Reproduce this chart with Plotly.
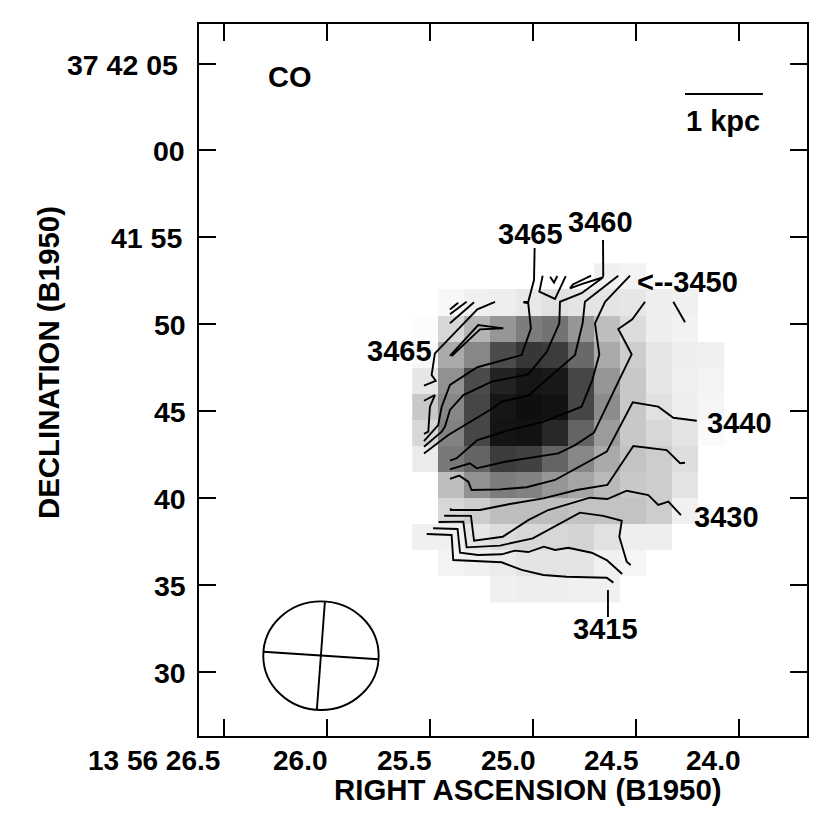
import plotly.graph_objects as go

# pixel grid of the CO map: RA seconds (13 56 xx), Dec seconds offset (37 41 xx, >60 = 37 42 xx)
grid_ra = [25.523, 25.397, 25.271, 25.145, 25.018, 24.892, 24.766, 24.640, 24.514, 24.387, 24.261, 24.135]
grid_dec = [52.75, 51.25, 49.75, 48.25, 46.75, 45.24, 43.74, 42.24, 40.74, 39.23, 37.73, 36.23, 34.73]
n = None
co_flux = [
    [n, n, n, n, n, n, n, 15, 12, n, n, n],
    [n, 8, 15, 17, 23, 30, 27, 27, 25, 17, 15, n],
    [3, 40, 75, 105, 130, 140, 105, 65, 35, 17, 13, n],
    [7, 85, 120, 180, 200, 195, 150, 85, 50, 25, 17, 15],
    [25, 110, 180, 220, 233, 230, 185, 105, 55, 25, 15, 12],
    [55, 120, 185, 233, 240, 237, 185, 115, 55, 30, 17, 10],
    [40, 125, 185, 235, 237, 215, 155, 100, 55, 40, 27, 5],
    [20, 135, 155, 195, 190, 155, 120, 85, 60, 50, 33, n],
    [n, 65, 110, 130, 125, 105, 90, 70, 55, 50, 27, n],
    [n, 40, 50, 65, 65, 65, 60, 60, 60, 50, 15, n],
    [15, 15, 25, 35, 40, 40, 43, 30, 17, 17, n, n],
    [n, 12, 15, 20, 27, 27, 27, 15, 10, n, n, n],
    [n, n, n, 15, 17, 17, 15, 15, n, n, n, n],
]

# velocity contour segments, (RA, Dec)
contours = [
    ([25.184, 25.270, 25.476, 25.492, 25.472, 25.529], [51.28, 50.85, 48.32, 47.07, 46.74, 46.46]),
    ([25.403, 25.363], [50.85, 51.23]),
    ([25.403, 25.322], [50.57, 51.29]),
    ([25.403, 25.286], [50.05, 51.26]),
    ([25.403, 25.266, 25.144, 25.257, 25.395], [48.18, 49.95, 49.76, 49.70, 48.17]),
    ([25.529, 25.476, 25.500, 25.508, 25.529], [45.59, 45.92, 45.25, 43.81, 43.68]),
    ([24.992, 24.995, 25.023, 25.047, 25.023, 25.010, 25.055, 25.270, 25.403, 25.443, 25.460, 25.529],
     [54.38, 52.54, 51.29, 51.26, 51.20, 49.76, 48.22, 47.52, 46.50, 45.25, 44.19, 43.27]),
    ([24.953, 24.969, 24.893, 24.841], [52.79, 51.87, 51.45, 52.77]),
    ([24.917, 24.898, 24.882], [52.73, 52.39, 52.77]),
    ([24.660, 24.659], [54.84, 52.73]),
    ([24.718, 24.806, 24.820, 24.764, 24.659, 24.764, 24.869, 24.872, 24.933, 25.023, 25.200, 25.338, 25.403, 25.427, 25.443, 25.529],
     [52.79, 52.29, 52.06, 52.31, 52.70, 51.78, 51.29, 50.05, 48.41, 47.11, 46.69, 45.92, 45.06, 44.10, 43.81, 42.94]),
    ([24.586, 24.748, 24.759, 24.796, 25.023, 25.152, 25.209, 25.330, 25.411, 25.529],
     [52.79, 51.29, 50.05, 48.22, 45.88, 45.54, 45.06, 44.19, 43.62, 42.56]),
    ([24.529, 24.650, 24.699, 24.678, 24.712, 24.764, 24.950, 25.112, 25.270, 25.370, 25.403],
     [52.79, 51.29, 50.05, 48.26, 46.78, 45.25, 44.38, 43.91, 43.33, 42.28, 42.14]),
    ([24.456, 24.518, 24.586, 24.521, 24.578, 24.704, 24.796, 24.877, 25.136, 25.273, 25.306, 25.403],
     [51.29, 50.28, 49.72, 48.26, 46.88, 43.75, 43.04, 42.56, 42.08, 41.70, 41.99, 41.64]),
    ([24.319, 24.262], [51.29, 50.11]),
    ([24.205, 24.319, 24.392, 24.516, 24.642, 24.804, 24.893, 25.031, 25.160, 25.298, 25.314, 25.358, 25.403],
     [44.44, 44.61, 45.25, 45.50, 42.66, 41.60, 41.03, 40.61, 40.49, 40.45, 40.93, 41.28, 41.09]),
    ([24.262, 24.286, 24.351, 24.513, 24.639, 24.788, 24.950, 25.112, 25.257, 25.399, 25.399],
     [42.02, 41.99, 42.75, 42.98, 40.74, 40.45, 39.97, 39.65, 39.30, 39.30, 39.40]),
    ([24.282, 24.343, 24.392, 24.440, 24.545, 24.639, 24.723, 24.926, 25.023, 25.147, 25.286, 25.301, 25.431],
     [39.01, 39.78, 39.59, 40.16, 40.41, 39.93, 40.01, 39.30, 38.72, 37.76, 37.53, 38.96, 38.97]),
    ([24.526, 24.545, 24.581, 24.569, 24.659, 24.772, 25.001, 25.160, 25.322, 25.338, 25.458],
     [36.13, 36.32, 37.76, 38.68, 38.96, 39.15, 37.67, 37.25, 37.15, 38.63, 38.61]),
    ([24.567, 24.642, 24.715, 24.829, 24.893, 24.947, 25.023, 25.087, 25.152, 25.266, 25.354, 25.366, 25.485],
     [35.62, 36.42, 36.84, 37.13, 37.00, 37.19, 36.88, 36.96, 36.75, 36.71, 36.84, 38.21, 38.25]),
    ([24.610, 24.642, 24.836, 24.950, 25.055, 25.152, 25.387, 25.395, 25.516],
     [35.12, 35.40, 35.46, 35.56, 35.85, 36.29, 36.42, 37.86, 37.92]),
    ([24.636, 24.636], [34.69, 33.14]),
    ([24.262, 23.884], [63.25, 63.25]),
]

x_ticks = [26.5, 26.0, 25.5, 25.0, 24.5, 24.0]
x_labels = ["13 56 26.5", "26.0", "25.5", "25.0", "24.5", "24.0"]
x_label_shift = [-2, 3, 4, 5, 5, 4]
y_ticks = [65, 60, 55, 50, 45, 40, 35, 30]
y_labels = ["37 42 05", "00", "41 55", "50", "45", "40", "35", "30"]
y_label_shift = [-19, -12, -15, -11, -11, -11, -11, -11]

# map labels: text, RA, Dec
notes = [
    ("CO", 26.180, 64.23),
    ("1 kpc", 24.078, 61.70),
    ("3465", 25.010, 55.19),
    ("3460", 24.670, 55.88),
    ("<--3450", 24.248, 52.43),
    ("3465", 25.646, 48.45),
    ("3440", 23.998, 44.31),
    ("3430", 24.063, 38.90),
    ("3415", 24.648, 32.45),
]

FONT = "Liberation Sans"
fig = go.Figure()
fig.add_trace(go.Heatmap(
    x=grid_ra, y=grid_dec, z=co_flux, zmin=0, zmax=255,
    colorscale=[[0, "white"], [1, "black"]], showscale=False, hoverinfo="skip",
))
for ra, dec in contours:
    fig.add_trace(go.Scatter(x=ra, y=dec, mode="lines", showlegend=False,
                             line=dict(color="black", width=1.9)))

annotations = []
for text, ra, dec in notes:
    annotations.append(dict(x=ra, y=dec, xref="x", yref="y", text=f"<b>{text}</b>", showarrow=False,
                            font=dict(family=FONT, size=29, color="black")))
for val, lab, shift in zip(x_ticks, x_labels, x_label_shift):
    annotations.append(dict(x=val, y=-0.0351, xref="x", yref="paper", text=f"<b>{lab}</b>", showarrow=False,
                            xanchor="right", yanchor="middle", xshift=shift,
                            font=dict(family=FONT, size=28, color="black")))
for val, lab, shift in zip(y_ticks, y_labels, y_label_shift):
    annotations.append(dict(x=0, y=val, xref="paper", yref="y", text=f"<b>{lab}</b>", showarrow=False,
                            xanchor="right", xshift=shift, yshift=-1,
                            font=dict(family=FONT, size=28.5, color="black")))
annotations.append(dict(x=0.5411, y=-0.0758, xref="paper", yref="paper", text="<b>RIGHT ASCENSION (B1950)</b>",
                        showarrow=False, xanchor="center", yanchor="middle",
                        font=dict(family=FONT, size=29.4, color="black")))
annotations.append(dict(x=-0.2467, y=0.5239, xref="paper", yref="paper", text="<b>DECLINATION (B1950)</b>",
                        showarrow=False, textangle=-90, xanchor="center", yanchor="middle",
                        font=dict(family=FONT, size=29.4, color="black")))

# beam ellipse with its axes
beam = dict(color="black", width=1.9)
shapes = [
    dict(type="circle", xref="x", yref="y", x0=26.309, x1=25.749, y0=27.79, y1=34.04, line=beam),
    dict(type="line", xref="x", yref="y", x0=26.010, x1=26.049, y0=34.02, y1=27.79, line=beam),
    dict(type="line", xref="x", yref="y", x0=26.309, x1=25.751, y0=31.14, y1=30.71, line=beam),
]

axis = dict(showline=True, linecolor="black", linewidth=2, mirror="ticks", ticks="inside",
            ticklen=17, tickwidth=2, tickcolor="black", showticklabels=False,
            showgrid=False, zeroline=False)
fig.update_layout(
    width=830, height=823,
    margin=dict(l=199, r=23, t=24, b=87),
    paper_bgcolor="white", plot_bgcolor="white",
    showlegend=False,
    xaxis=dict(axis, range=[26.621, 23.670], tickvals=x_ticks),
    yaxis=dict(axis, range=[26.29, 67.28], tickvals=y_ticks),
    annotations=annotations, shapes=shapes,
)
fig.write_html("out.html", config=dict(displayModeBar=False), post_script="document.body.style.margin='0';")
